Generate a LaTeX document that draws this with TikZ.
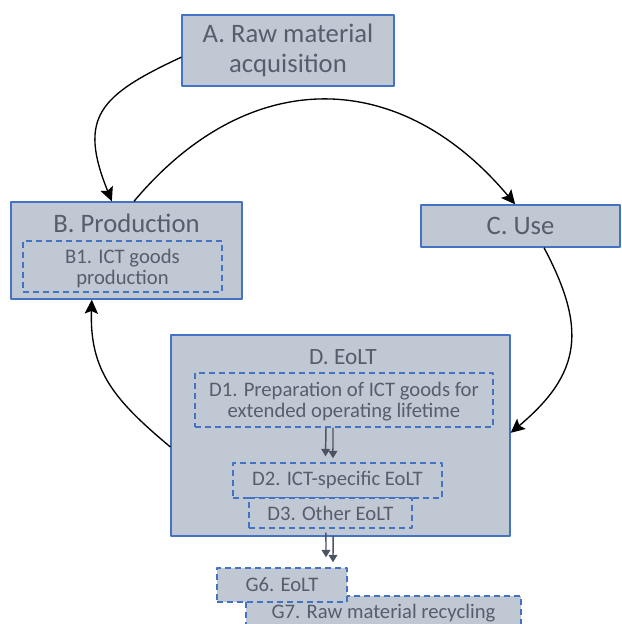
\documentclass[tikz,border=0pt]{standalone}
\usepackage{fontspec}
\setmainfont{Carlito}
\usetikzlibrary{arrows.meta}
\definecolor{boxfill}{RGB}{192,200,212}
\definecolor{boxline}{RGB}{68,114,196}
\definecolor{boxtext}{RGB}{86,94,108}
\definecolor{dblgray}{RGB}{76,84,98}
\begin{document}
\begin{tikzpicture}[x=0.75pt, y=0.75pt, line join=round, >=Stealth,
	box/.style={draw=boxline, fill=boxfill, line width=1pt, inner sep=0pt, text=boxtext, align=center, font=\fontsize{20}{22.5}\selectfont},
	sub/.style={box, dash pattern=on 4.5pt off 3pt, line width=1.1pt, font=\fontsize{15.5}{15.8}\selectfont},
	wh/.style 2 args={minimum width=#1*0.75pt, minimum height=#2*0.75pt},
	flow/.style={-{Stealth[length=10.5pt,width=10pt,inset=2pt]}, line width=1pt},
	dbl/.style={-{Triangle[length=5.5pt,width=6.5pt]}, line width=1.1pt, dblgray}]
	\useasboundingbox (0,0) rectangle (621,-624);
	\clip (0,0) rectangle (621,-624);
	% boxes
	\node[box, wh={212}{71}] (A) at (288,-50.5) {A. Raw material\\acquisition};
	\node[box, wh={231}{97}] (B) at (126.5,-250.5) {};
	\node[box, text=boxtext] (Btitle) at (126.5,-223) [draw=none, fill=none] {B. Production};
	\node[sub, wh={199}{51}, text depth=-2pt] (B1) at (122.5,-266.5) {B1. ICT goods\\production};
	\node[box, wh={199}{42}] (C) at (520.5,-226) {C. Use};
	\node[box, wh={339}{201}] (D) at (340.5,-435.5) {};
	\node[box, draw=none, fill=none, font=\fontsize{17.5}{18}\selectfont] (Dtitle) at (343,-357) {D. EoLT};
	\node[sub, wh={298}{54}, text depth=-2pt] (D1) at (344,-400) {D1. Preparation of ICT goods for\\extended operating lifetime};
	\node[sub, wh={209}{35}] (D2) at (337.5,-480.5) {D2. ICT-specific EoLT};
	\node[sub, wh={163}{30}] (D3) at (330.5,-513) {D3. Other EoLT};
	\node[sub, wh={275}{34}] (G7) at (383.5,-613) {G7. Raw material recycling};
	\node[sub, wh={130}{34}] (G6) at (282,-585) {G6. EoLT};
	% cycle
	\draw[flow] ([yshift=-5pt]A.west) to[out=205, in=112, looseness=1.45] ([xshift=-11pt]B.north);
	\draw[flow] ([xshift=5.6pt]B.north) to[out=50, in=130, looseness=1.2] ([xshift=-4pt]C.north);
	\draw[flow] ([xshift=17.6pt]C.south) to[out=-62, in=40, looseness=1.25] ([yshift=2pt]D.east);
	\draw[flow] ([yshift=-8.6pt]D.west) to[out=140, in=-92, looseness=1.1] ([xshift=-26pt]B.south);
	% inner flows
	\draw[dbl] ([xshift=-13.5pt]D1.south) -- ([xshift=-9pt, yshift=4.5pt]D2.north);
	\draw[dbl] ([xshift=-8.25pt]D1.south) -- ([xshift=-3.4pt, yshift=3pt]D2.north);
	\draw[dbl] ([xshift=-3.4pt, yshift=-3pt]D3.south) -- ([xshift=33pt, yshift=7.5pt]G6.north);
	\draw[dbl] ([xshift=1.9pt, yshift=-5.25pt]D3.south) -- ([xshift=38.25pt, yshift=3.75pt]G6.north);
\end{tikzpicture}
\end{document}
